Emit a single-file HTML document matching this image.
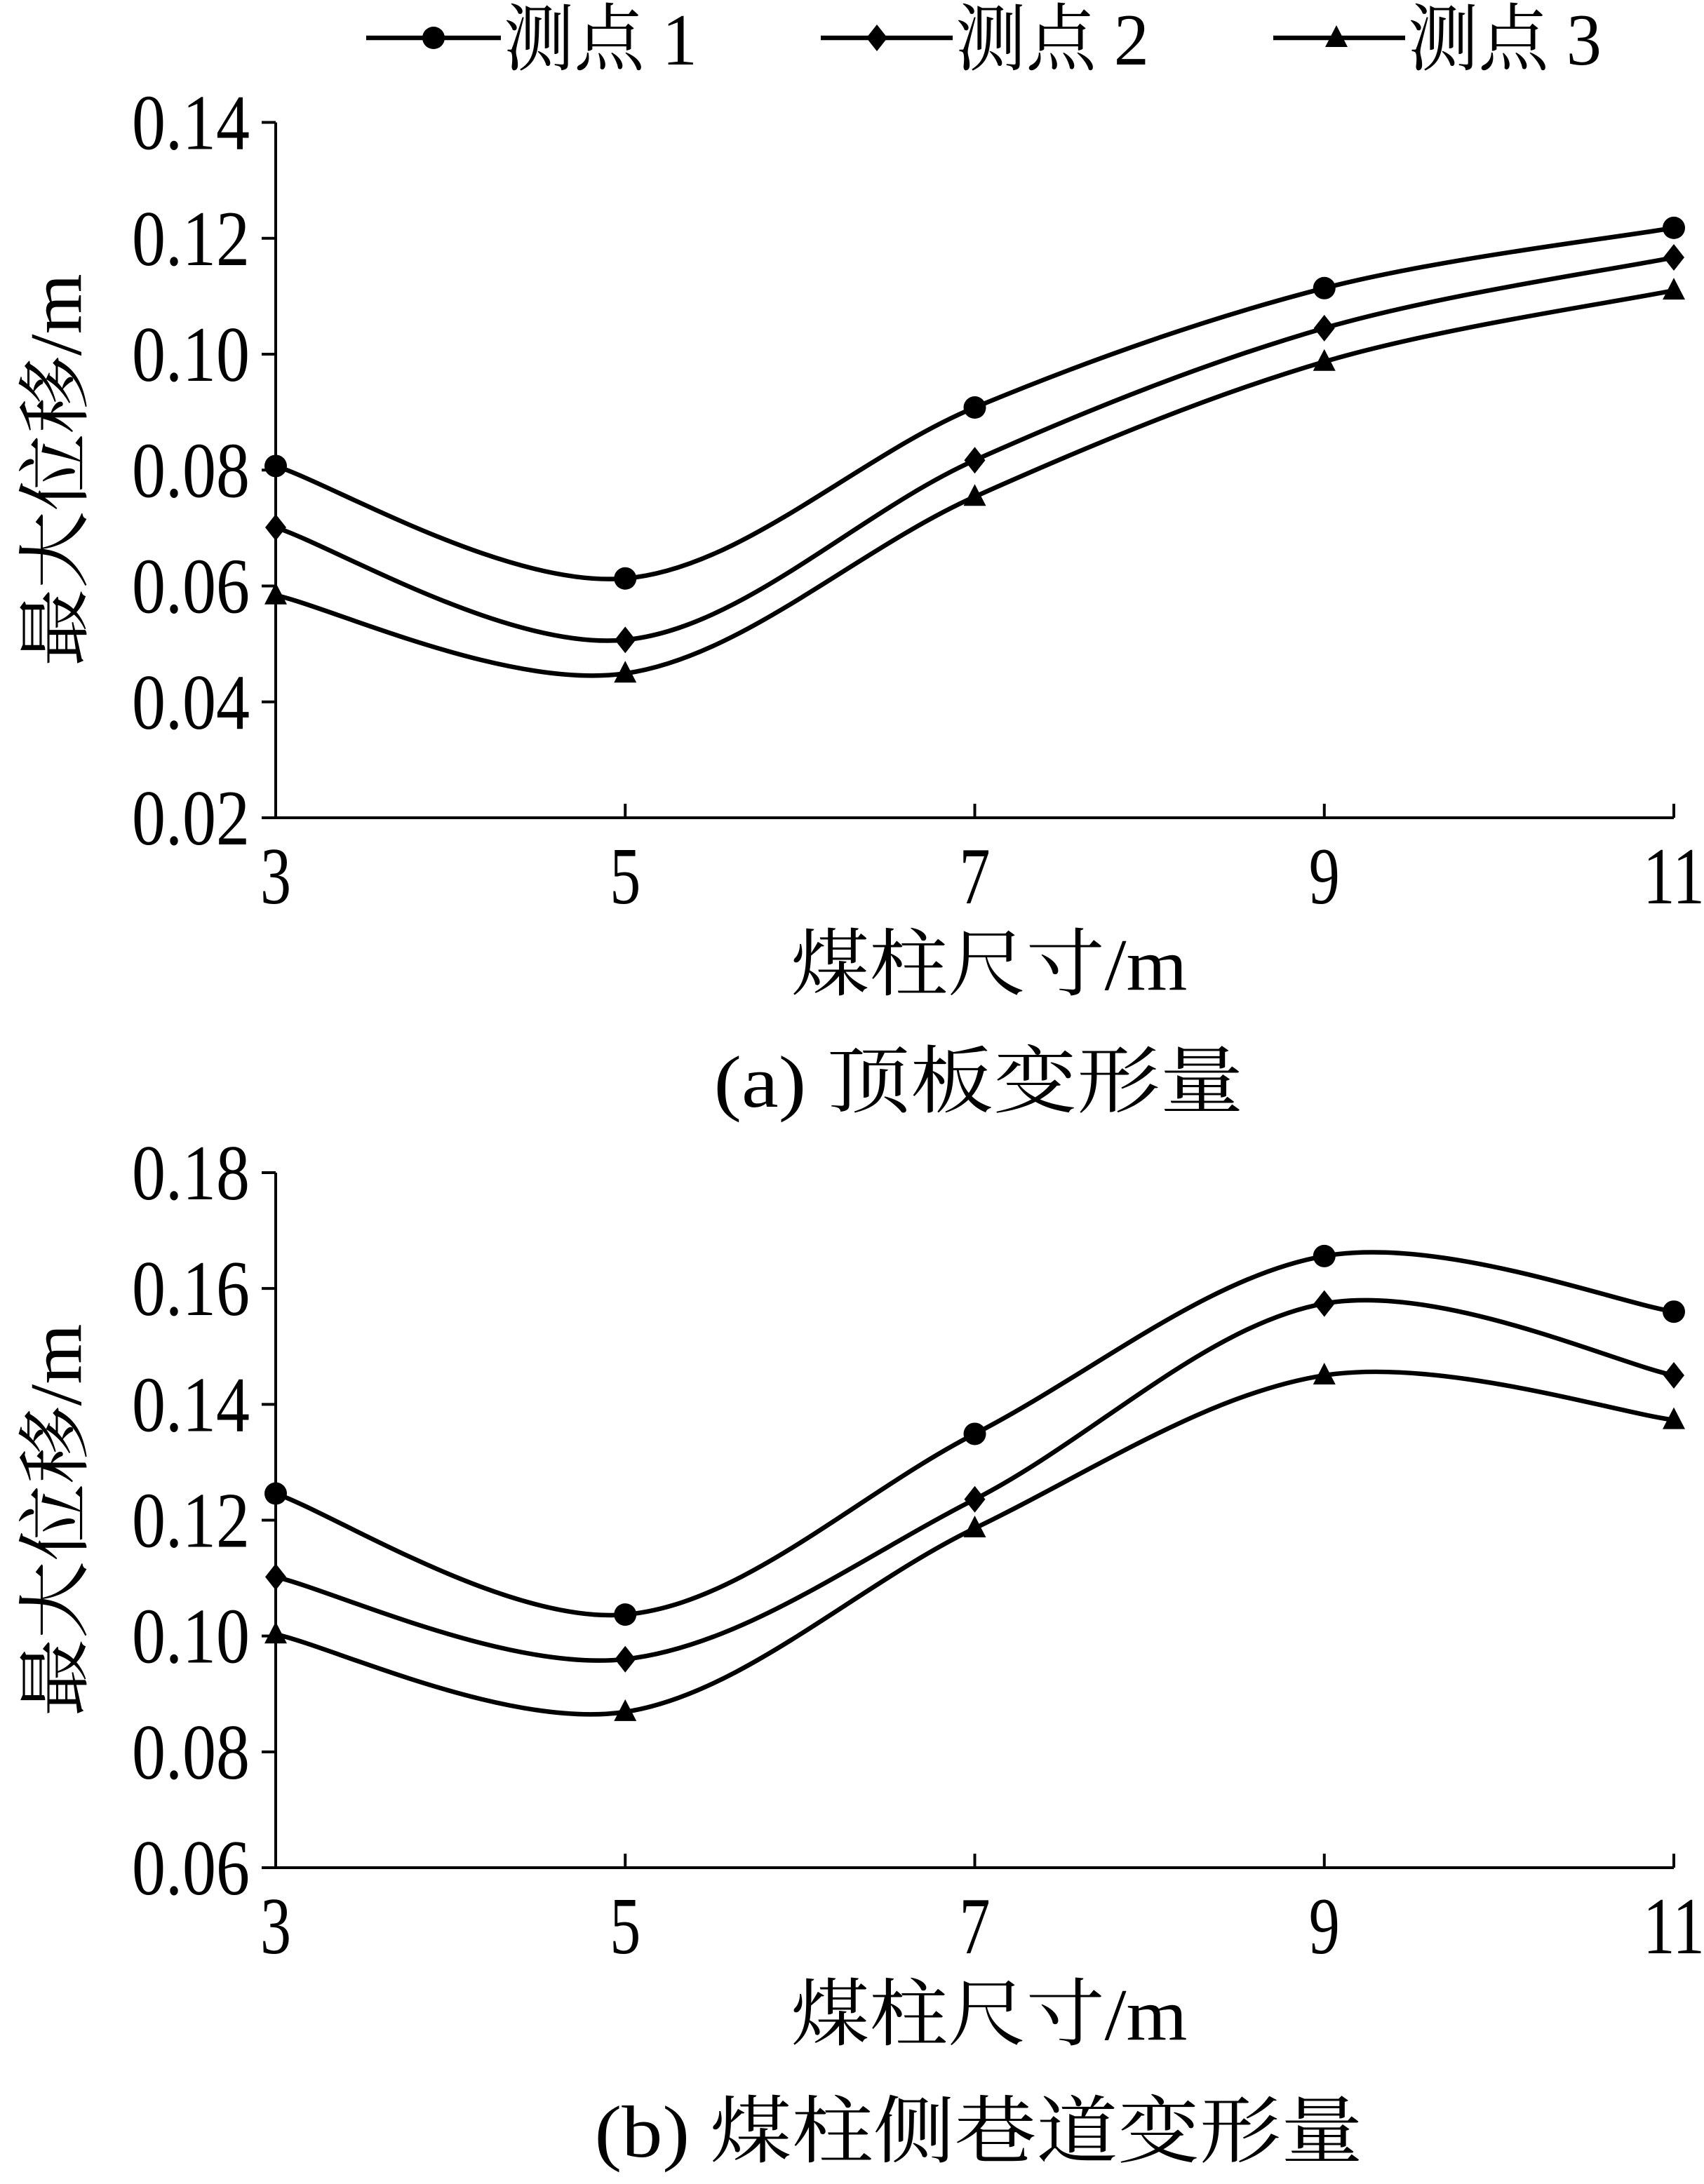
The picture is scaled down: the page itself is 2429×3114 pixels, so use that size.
<!DOCTYPE html>
<html><head><meta charset="utf-8"><style>
html,body{margin:0;padding:0;background:#fff}
svg text{font-family:"Liberation Serif","Noto Serif CJK SC",serif;fill:#000}
</style></head><body>
<svg id="c" width="2429" height="3109" viewBox="0 0 2429 3109" xmlns="http://www.w3.org/2000/svg"></svg>
<script>
const xCats=[3,5,7,9,11];
const seriesNames=["测点 1","测点 2","测点 3"];
const topP1=[0.0807,0.0613,0.0908,0.1114,0.1218];
const topP2=[0.0701,0.0507,0.0817,0.1045,0.1167];
const topP3=[0.0584,0.0449,0.0754,0.0987,0.1110];
const botP1=[0.1246,0.1037,0.1349,0.1656,0.1560];
const botP2=[0.1102,0.0960,0.1236,0.1574,0.1450];
const botP3=[0.1003,0.0869,0.1186,0.1450,0.1373];
const topTicks=["0.02","0.04","0.06","0.08","0.10","0.12","0.14"];
const botTicks=["0.06","0.08","0.10","0.12","0.14","0.16","0.18"];
const xTickLabels=["3","5","7","9","11"];

const NS="http://www.w3.org/2000/svg";
const svg=document.getElementById('c');
function el(t,a,p){const e=document.createElementNS(NS,t);for(const k in a)e.setAttribute(k,a[k]);(p||svg).appendChild(e);return e;}
function txt(s,a,p){const e=el('text',a,p);e.textContent=s;return e;}

function marker(g,type,x,y){
  let m;
  if(type===0){m=el('circle',{cx:x,cy:y,r:16,fill:'#000'},g);}
  else if(type===1){m=el('polygon',{points:`${x},${y-19} ${x+15},${y} ${x},${y+19} ${x-15},${y}`,fill:'#000'},g);}
  else {m=el('polygon',{points:`${x},${y-18} ${x+16},${y+13} ${x-16},${y+13}`,fill:'#000'},g);}
  return m;
}
function smooth(pts){
  let d=`M${pts[0][0]},${pts[0][1]}`;
  for(let i=0;i<pts.length-1;i++){
    const p0=pts[i-1]||pts[i],p1=pts[i],p2=pts[i+1],p3=pts[i+2]||p2;
    const c1=[p1[0]+(p2[0]-p0[0])/6,p1[1]+(p2[1]-p0[1])/6];
    const c2=[p2[0]-(p3[0]-p1[0])/6,p2[1]-(p3[1]-p1[1])/6];
    d+=` C${c1[0]},${c1[1]} ${c2[0]},${c2[1]} ${p2[0]},${p2[1]}`;
  }
  return d;
}

function panel(name,yTop,yBot,ymin,ymax,ticks,series,caption,capLen){
  const g=el('g',{});
  
  
  const x0=393,x1=2386;
  const xs=v=>x0+(v-3)/(11-3)*(x1-x0);
  const ys=v=>yBot-(v-ymin)/(ymax-ymin)*(yBot-yTop);
  const ax=el('path',{d:`M${x0},${yTop} L${x0},${yBot} L${x1},${yBot}`,stroke:'#000','stroke-width':4,fill:'none'},g);
  
  
  ticks.forEach(t=>{
    const y=ys(parseFloat(t));
    el('line',{x1:x0-20,y1:y,x2:x0,y2:y,stroke:'#000','stroke-width':4},g);
    const l=txt(t,{x:356,y:y+38,'text-anchor':'end','font-size':112,textLength:168,lengthAdjust:'spacingAndGlyphs'},g);
    
    
  });
  xCats.forEach((c,i)=>{
    const x=xs(c);
    el('line',{x1:x,y1:yBot,x2:x,y2:yBot-20,stroke:'#000','stroke-width':4},g);
    const lab=xTickLabels[i];
    const l=txt(lab,{x:x,y:yBot+122,'text-anchor':'middle','font-size':116,textLength:lab.length*44,lengthAdjust:'spacingAndGlyphs'},g);
    
    
  });
  series.forEach((s,si)=>{
    const pts=xCats.map((c,i)=>[xs(c),ys(s[i])]);
    const p=el('path',{d:smooth(pts),stroke:'#000','stroke-width':6.5,fill:'none'},g);
    
    
    pts.forEach(pt=>{
      const m=marker(g,si,pt[0],pt[1]);
      
      
    });
  });
  const xt=txt('煤柱尺寸/m',{x:1410,y:yBot+245,'text-anchor':'middle','font-size':105,textLength:565,lengthAdjust:'spacingAndGlyphs'},g);
  
  
  const cy=(yTop+yBot)/2;
  const yt=txt('最大位移/m',{x:0,y:0,'text-anchor':'middle','font-size':105,textLength:560,lengthAdjust:'spacingAndGlyphs',transform:`translate(115,${cy}) rotate(-90)`},g);
  
  
  const cp=txt(caption,{x:1395,y:yBot+412,'text-anchor':'middle','font-size':105,textLength:capLen,lengthAdjust:'spacingAndGlyphs'},g);
  
  
}

// legend
const lg=el('g',{});


const legX=[[522,714,618],[1170,1358,1250],[1815,2003,1905]];
seriesNames.forEach((n,i)=>{
  const e=el('g',{},lg);
  
  
  el('line',{x1:legX[i][0],y1:54,x2:legX[i][1],y2:54,stroke:'#000','stroke-width':6.5},e);
  marker(e,i,legX[i][2],54);
  txt(n,{x:legX[i][1]+4,y:92,'font-size':105,textLength:276,lengthAdjust:'spacingAndGlyphs'},e);
});

panel('top-panel',174.5,1166,0.02,0.14,topTicks,[topP1,topP2,topP3],'(a)  顶板变形量',755);
panel('bottom-panel',1672,2663,0.06,0.18,botTicks,[botP1,botP2,botP3],'(b)  煤柱侧巷道变形量',1095);
</script>
</body></html>
